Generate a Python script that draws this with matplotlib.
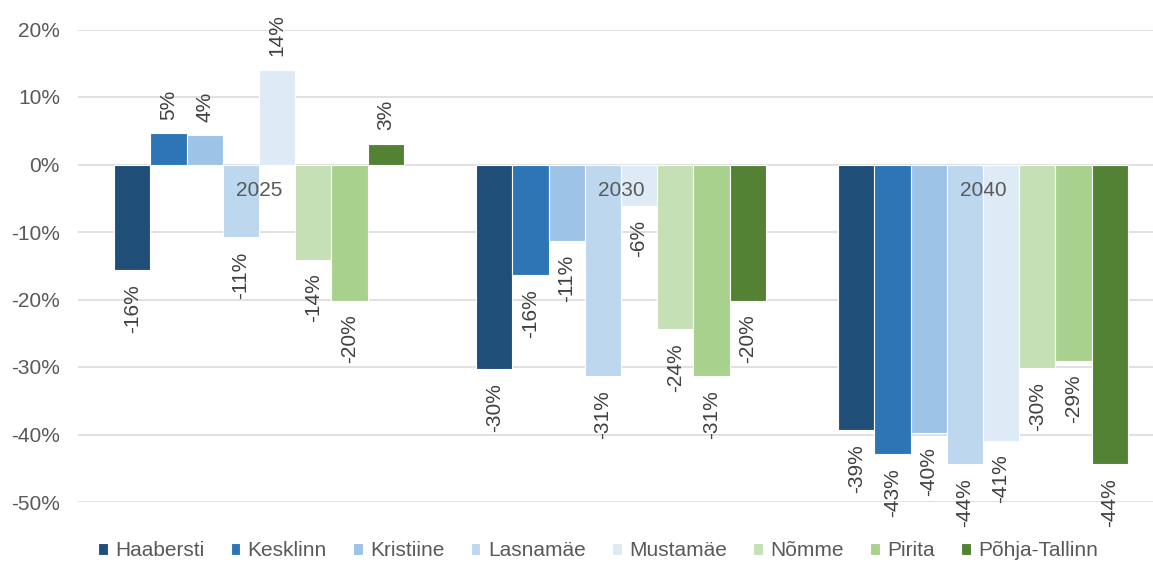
import matplotlib
matplotlib.use("Agg")
import matplotlib.pyplot as plt
import numpy as np

plt.rcParams["font.family"] = ["Liberation Sans", "DejaVu Sans"]

# ── data ──────────────────────────────────────────────────────
years = ["2025", "2030", "2040"]
districts = ["Haabersti", "Kesklinn", "Kristiine", "Lasnamäe",
             "Mustamäe", "Nõmme", "Pirita", "Põhja-Tallinn"]
haabersti = [-15.7, -30.3, -39.4]
kesklinn = [4.6, -16.4, -42.9]
kristiine = [4.3, -11.3, -39.8]
lasnamae = [-10.8, -31.4, -44.4]
mustamae = [14.0, -6.1, -40.9]
nomme = [-14.1, -24.4, -30.2]
pirita = [-20.2, -31.4, -29.1]
pohja = [3.0, -20.2, -44.4]
series = [haabersti, kesklinn, kristiine, lasnamae,
          mustamae, nomme, pirita, pohja]

colors = ["#1F4E79", "#2E75B6", "#9DC3E6", "#BDD7EE",
          "#DEEBF7", "#C5E0B4", "#A9D18E", "#548235"]

# ── figure ────────────────────────────────────────────────────
fig = plt.figure(figsize=(11.53, 5.63), dpi=100)
ax = fig.add_axes([78 / 1153, 1 - 502 / 563, 1086 / 1153, (502 - 29.5) / 563])

x = np.arange(len(years))
w = 0.1
for j, (name, vals) in enumerate(zip(districts, series)):
    bars = ax.bar(x + (j - 3.5) * w, vals, w, color=colors[j],
                  edgecolor="white", linewidth=0.8, label=name, zorder=3)
    ax.bar_label(bars, fmt="{:.0f}%", rotation=90, padding=10,
                 fontsize=15, color="#404040", clip_on=False)

ax.set_xlim(-0.5, 2.5)
ax.set_ylim(-50, 20)
ax.set_yticks(np.arange(-50, 21, 10))
ax.set_yticklabels([f"{v}%" for v in range(-50, 21, 10)])
ax.tick_params(axis="y", length=0, pad=13, labelsize=15, labelcolor="#595959")
ax.set_xticks([])
ax.grid(axis="y", color="#D9D9D9", linewidth=1.1, zorder=0)
for s in ax.spines.values():
    s.set_visible(False)

# year labels sit just under the zero line
for i, yr in enumerate(years):
    ax.annotate(yr, (x[i], 0), xytext=(0, -19), textcoords="offset points",
                ha="center", va="center", fontsize=15, color="#595959", zorder=5)

fig.legend(loc="center", bbox_to_anchor=(598 / 1153, 1 - 551 / 563), ncol=8,
           frameon=False, fontsize=15, handlelength=0.45, handleheight=0.45,
           handletextpad=0.35, columnspacing=1.28, labelcolor="#595959")

fig.savefig("out.png", dpi=100)
